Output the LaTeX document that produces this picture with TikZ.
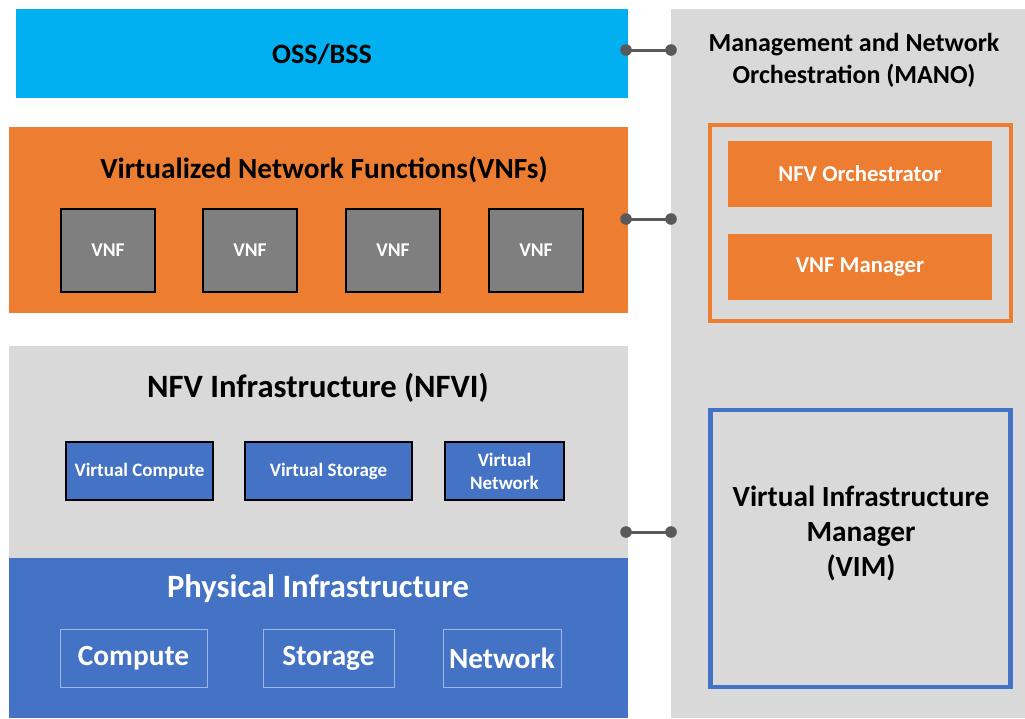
\documentclass[tikz,border=0pt]{standalone}
\usepackage{fontspec}
\setmainfont{Carlito}
\definecolor{osscyan}{HTML}{00B0F0}
\definecolor{vnforange}{HTML}{ED7D31}
\definecolor{lightgray}{HTML}{D9D9D9}
\definecolor{vnfgray}{HTML}{7F7F7F}
\definecolor{nfvblue}{HTML}{4472C4}
\definecolor{dotgray}{HTML}{595959}
\definecolor{subedge}{HTML}{9DB5E0}
\tikzset{
  box/.style={rectangle, inner sep=0pt, outer sep=0pt, anchor=north west},
  vnfbox/.style={box, fill=vnfgray, draw=black, line width=1.5pt, minimum width=94pt, minimum height=83pt, text=white, font=\bfseries\fontsize{19.5}{23}\selectfont},
  virtbox/.style={box, fill=nfvblue, draw=black, line width=1.5pt, minimum height=58pt, text=white, align=center, font=\bfseries\fontsize{19}{23}\selectfont},
  physbox/.style={box, draw=subedge, line width=0.8pt, minimum height=58pt, text=white, font=\bfseries\fontsize{29.3}{33}\selectfont},
  manobox/.style={box, fill=vnforange, minimum width=264pt, minimum height=66pt, text=white, font=\bfseries\fontsize{22.7}{26}\selectfont},
  title/.style={inner sep=0pt, align=center},
  link/.style={draw=dotgray, line width=3pt},
  linkdot/.style={fill=dotgray}
}
\begin{document}
\begin{tikzpicture}[x=1pt,y=-1pt]
\useasboundingbox[fill=white] (0,0) rectangle (1025,718);
% main layers
\node[box, fill=osscyan, minimum width=612pt, minimum height=89pt] (oss) at (16,9) {};
\node[box, fill=lightgray, minimum width=354pt, minimum height=709pt] (mano) at (671,9) {};
\node[box, fill=vnforange, minimum width=619pt, minimum height=186pt] (vnfs) at (9,127) {};
\node[box, fill=lightgray, minimum width=619pt, minimum height=212pt] (nfvi) at (9,346) {};
\node[box, fill=nfvblue, minimum width=619pt, minimum height=160pt] (phys) at (9,558) {};
% titles
\node[title, font=\bfseries\fontsize{28}{32}\selectfont] (osst) at (322,54) {OSS/BSS};
\node[title, font=\bfseries\fontsize{26}{32}\selectfont] (manot) at (854,60) {Management and Network\\Orchestration (MANO)};
\node[title, font=\bfseries\fontsize{29.3}{34}\selectfont] (vnft) at (324,170) {Virtualized Network Functions(VNFs)};
\node[title, font=\bfseries\fontsize{32.6}{36}\selectfont] (nfvit) at (318,388) {NFV Infrastructure (NFVI)};
\node[title, text=white, font=\bfseries\fontsize{32.6}{36}\selectfont] (physt) at (318,589) {Physical Infrastructure};
% MANO content
\node[box, draw=vnforange, line width=4pt, minimum width=301pt, minimum height=196pt] (orch) at (710,125) {};
\node[manobox] (nfvo) at (728,141) {NFV Orchestrator};
\node[manobox] (vnfm) at (728,234) {VNF Manager};
\node[box, draw=nfvblue, line width=4.5pt, minimum width=300pt, minimum height=277pt] (vim) at (710.5,410) {};
\node[title, font=\bfseries\fontsize{29.3}{35}\selectfont] (vimt) at (861,533) {Virtual Infrastructure\\Manager\\(VIM)};
% VNFs
\node[vnfbox] (vnf1) at (61,209) {VNF};
\node[vnfbox] (vnf2) at (203,209) {VNF};
\node[vnfbox] (vnf3) at (346,209) {VNF};
\node[vnfbox] (vnf4) at (489,209) {VNF};
% virtual resources
\node[virtbox, minimum width=147pt] (vcomp) at (66,442) {Virtual Compute};
\node[virtbox, minimum width=167pt] (vstor) at (245,442) {Virtual Storage};
\node[virtbox, minimum width=119pt] (vnet) at (445,442) {Virtual\\Network};
% physical resources
\node[physbox, minimum width=147pt] (pcomp) at (60,629) {Compute};
\node[physbox, minimum width=131pt] (pstor) at (263,629) {Storage};
\node[physbox, minimum width=118pt] (pnet) at (443,629) {Network};
% connectors
\coordinate (a1) at (626,50); \coordinate (b1) at (671,50);
\coordinate (a2) at (626,219); \coordinate (b2) at (671,219);
\coordinate (a3) at (626,532); \coordinate (b3) at (671,532);
\draw[link] (a1) -- (b1);
\draw[link] (a2) -- (b2);
\draw[link] (a3) -- (b3);
\foreach \p in {a1,b1,a2,b2,a3,b3} \fill[linkdot] (\p) circle (5.8pt);
\end{tikzpicture}
\end{document}
